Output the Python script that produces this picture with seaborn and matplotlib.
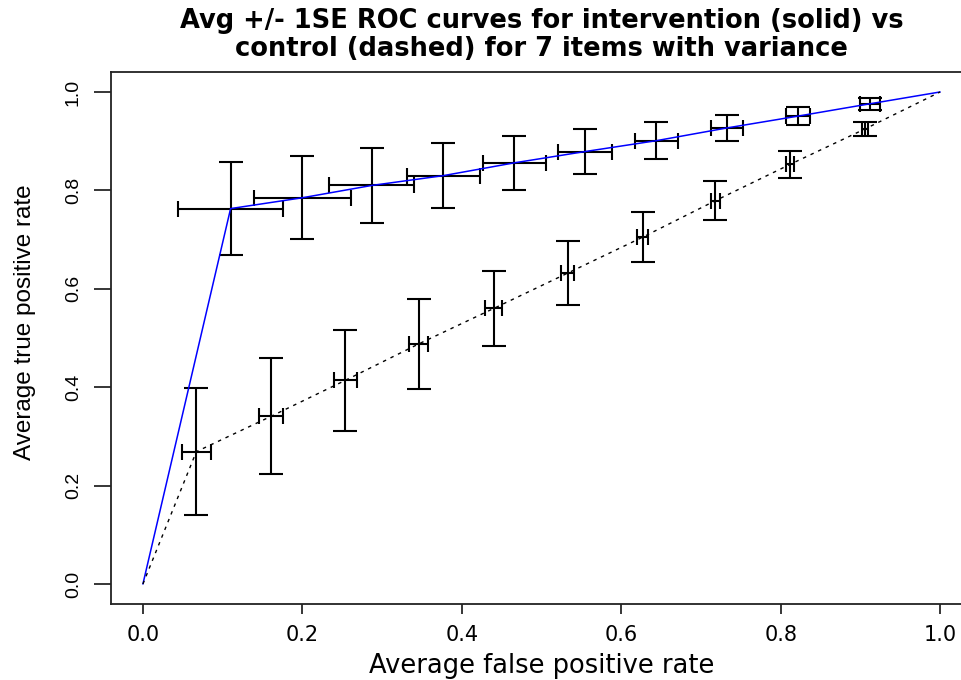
import pandas as pd
import matplotlib.pyplot as plt
import seaborn as sns

# ROC points (average false / true positive rate), endpoints included
int_fpr = [0.0, 0.110, 0.200, 0.287, 0.377, 0.466, 0.555, 0.644, 0.733, 0.822, 0.912, 1.0]
int_tpr = [0.0, 0.763, 0.785, 0.810, 0.830, 0.856, 0.879, 0.901, 0.927, 0.951, 0.976, 1.0]
# 1SE for the inner points only
int_fpr_se = [0.066, 0.061, 0.053, 0.046, 0.040, 0.034, 0.027, 0.020, 0.015, 0.0125]
int_tpr_se = [0.095, 0.084, 0.076, 0.066, 0.055, 0.046, 0.038, 0.027, 0.018, 0.012]

ctl_fpr = [0.0, 0.067, 0.161, 0.254, 0.346, 0.440, 0.533, 0.627, 0.718, 0.812, 0.906, 1.0]
ctl_tpr = [0.0, 0.269, 0.341, 0.414, 0.488, 0.560, 0.632, 0.705, 0.779, 0.853, 0.925, 1.0]
ctl_fpr_se = [0.018, 0.015, 0.0144, 0.012, 0.0107, 0.008, 0.007, 0.006, 0.005, 0.004]
ctl_tpr_se = [0.129, 0.118, 0.103, 0.091, 0.076, 0.065, 0.051, 0.040, 0.027, 0.014]

x_ticks = [0.0, 0.2, 0.4, 0.6, 0.8, 1.0]
y_ticks = [0.0, 0.2, 0.4, 0.6, 0.8, 1.0]

df_int = pd.DataFrame({"fpr": int_fpr, "tpr": int_tpr})
df_ctl = pd.DataFrame({"fpr": ctl_fpr, "tpr": ctl_tpr})

sns.set_style("ticks")
plt.rcParams["font.family"] = ["DejaVu Sans"]
plt.rcParams["text.color"] = "black"
plt.rcParams["axes.labelcolor"] = "black"

fig = plt.figure(figsize=(9.62, 6.8), dpi=100)
# right side of the box runs off the picture, like the reference
ax = fig.add_axes([0.1154, 0.1122, 0.895, 0.7815])

# error bars (vertical and horizontal have different cap sizes)
for fpr, tpr, fse, tse in [(int_fpr, int_tpr, int_fpr_se, int_tpr_se),
                           (ctl_fpr, ctl_tpr, ctl_fpr_se, ctl_tpr_se)]:
    ax.errorbar(fpr[1:-1], tpr[1:-1], yerr=tse, fmt="none", ecolor="black",
                elinewidth=1.5, capsize=8.6, capthick=1.5, zorder=2)
    ax.errorbar(fpr[1:-1], tpr[1:-1], xerr=fse, fmt="none", ecolor="black",
                elinewidth=1.5, capsize=5.8, capthick=1.5, zorder=2)

sns.lineplot(data=df_int, x="fpr", y="tpr", sort=False, estimator=None,
             color="blue", linewidth=1.1, ax=ax, zorder=3)
sns.lineplot(data=df_ctl, x="fpr", y="tpr", sort=False, estimator=None,
             color="black", linewidth=1.0, linestyle=(0, (2.5, 3.5)), ax=ax, zorder=3)

ax.set_xlim(-0.04, 1.04)
ax.set_ylim(-0.04, 1.04)
ax.set_xticks(x_ticks)
ax.set_yticks(y_ticks)
ax.set_xticklabels([f"{v:.1f}" for v in x_ticks], fontsize=15)
ax.set_yticklabels([f"{v:.1f}" for v in y_ticks], fontsize=14,
                   rotation=90, va="center", family=["Liberation Sans", "DejaVu Sans"])
ax.tick_params(axis="x", direction="out", length=7.2, width=1.1, pad=8, colors="black")
ax.tick_params(axis="y", direction="out", length=12, width=1.1, pad=9, colors="black")
for s in ax.spines.values():
    s.set_linewidth(1.3)
    s.set_color("#222222")

ax.set_xlabel("Average false positive rate", fontsize=18.5, labelpad=6)
ax.set_ylabel("Average true positive rate", fontsize=17.5,
              family=["Liberation Sans", "DejaVu Sans"])
ax.yaxis.set_label_coords(-0.087, 0.53)
ax.set_title("Avg +/- 1SE ROC curves for intervention (solid) vs\n"
             "control (dashed) for 7 items with variance",
             fontsize=18.5, fontweight="bold", pad=12, linespacing=1.1)

fig.savefig("out.png", dpi=100, facecolor="white")
plt.close()
